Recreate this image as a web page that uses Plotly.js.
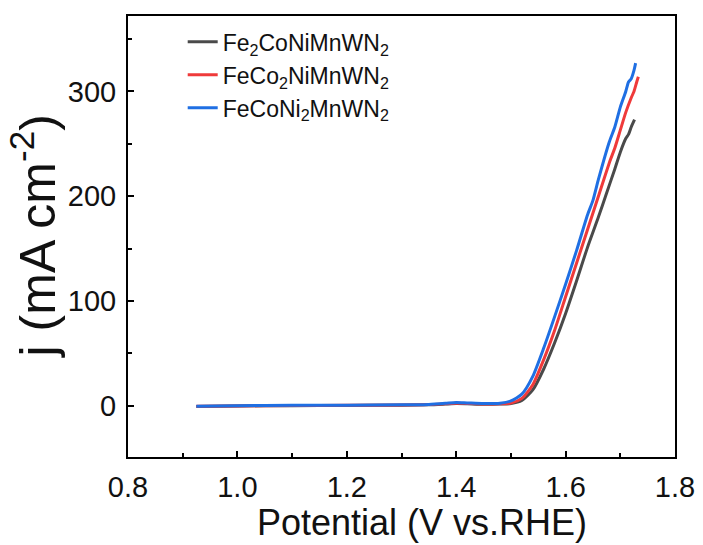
<!DOCTYPE html>
<html><head><meta charset="utf-8">
<script src="https://cdn.plot.ly/plotly-3.0.1.min.js"></script>
<style>body{margin:0;background:#fff}#plot{width:703px;height:545px}</style>
</head><body><div id="plot"></div>
<script>
const names = ['Fe<sub>2</sub>CoNiMnWN<sub>2</sub>', 'FeCo<sub>2</sub>NiMnWN<sub>2</sub>', 'FeCoNi<sub>2</sub>MnWN<sub>2</sub>'];
const colors = ['#4a4a4a', '#ef3a3a', '#1f6fe3'];
const xTitle = 'Potential (V vs.RHE)';
const yTitle = 'j (mA cm<sup>-2</sup>)';

const blackX = [0.925, 1.0, 1.1, 1.2, 1.3, 1.35, 1.38, 1.40, 1.42, 1.45, 1.48, 1.50, 1.52, 1.54, 1.56, 1.58, 1.60, 1.62, 1.64, 1.66, 1.675, 1.69, 1.70, 1.71, 1.715, 1.72, 1.726];
const blackY = [-0.8, -0.3, 0, 0.2, 0.5, 0.8, 1.5, 2.0, 1.8, 1.3, 1.5, 2.0, 5, 15, 35, 60, 88, 119, 151, 180, 203, 226, 242, 255, 259, 266, 273];

const redX = [0.925, 1.0, 1.1, 1.2, 1.3, 1.35, 1.38, 1.40, 1.42, 1.45, 1.48, 1.50, 1.52, 1.54, 1.56, 1.58, 1.60, 1.62, 1.64, 1.66, 1.68, 1.69, 1.70, 1.71, 1.72, 1.725, 1.73, 1.733];
const redY = [-0.6, -0.2, 0.1, 0.3, 0.6, 1.0, 1.8, 2.4, 2.1, 1.6, 1.8, 2.5, 7, 20, 44, 72, 104, 136, 168, 200, 232, 246, 263, 280, 294, 300, 309, 314];

const blueX = [0.925, 1.0, 1.1, 1.2, 1.3, 1.35, 1.38, 1.40, 1.42, 1.45, 1.48, 1.50, 1.52, 1.54, 1.56, 1.58, 1.60, 1.62, 1.64, 1.65, 1.66, 1.68, 1.69, 1.70, 1.71, 1.715, 1.72, 1.725, 1.728];
const blueY = [-0.5, 0, 0.3, 0.5, 0.8, 1.2, 2.2, 3.0, 2.6, 2.0, 2.3, 4.5, 11, 28, 55, 85, 116, 148, 182, 196, 216, 252, 266, 285, 300, 309, 312, 320, 327];

const xs = [blackX, redX, blueX];
const ys = [blackY, redY, blueY];

const data = xs.map((x, i) => ({
  x: x, y: ys[i], type: 'scatter', mode: 'lines', name: names[i],
  line: {color: colors[i], width: 3, shape: 'spline', smoothing: 0.6}
}));

const FONT = 'Liberation Sans, Arial, sans-serif';
const axisCommon = {
  showline: true, linecolor: '#000', linewidth: 2, mirror: true,
  ticks: 'inside', ticklen: 6, tickwidth: 2, tickcolor: '#000',
  showgrid: false, zeroline: false,
  tickfont: {family: FONT, size: 29, color: '#111'}
};

const layout = {
  width: 703, height: 545,
  margin: {l: 128, r: 28, t: 16, b: 88},
  paper_bgcolor: '#fff', plot_bgcolor: '#fff',
  showlegend: true,
  legend: {x: 0.1, y: 0.99, xanchor: 'left', yanchor: 'top',
    bgcolor: 'rgba(0,0,0,0)', tracegroupgap: 0,
    font: {family: FONT, size: 23, color: '#111'}},
  xaxis: Object.assign({}, axisCommon, {
    range: [0.8, 1.8], dtick: 0.2, tick0: 0.8, tickformat: '.1f', ticklabelstandoff: 3,
    minor: {ticks: 'inside', ticklen: 4, tickwidth: 2, tickcolor: '#000', dtick: 0.1, showgrid: false}
  }),
  yaxis: Object.assign({}, axisCommon, {
    range: [-49, 372], dtick: 100, tick0: 0, ticklabelstandoff: 4,
    minor: {ticks: 'inside', ticklen: 4, tickwidth: 2, tickcolor: '#000', dtick: 50, showgrid: false}
  }),
  annotations: [
    {text: xTitle, xref: 'paper', yref: 'paper', x: 0.537, y: -0.148, xanchor: 'center', yanchor: 'middle',
     showarrow: false, borderpad: 0, font: {family: FONT, size: 36, color: '#111'}},
    {text: yTitle, xref: 'paper', yref: 'paper', x: -0.172, y: 0.5, xanchor: 'center', yanchor: 'middle',
     textangle: -90, showarrow: false, borderpad: 0, font: {family: FONT, size: 50, color: '#111'}}
  ]
};

Plotly.newPlot('plot', data, layout, {displayModeBar: false, staticPlot: true});
</script></body></html>
